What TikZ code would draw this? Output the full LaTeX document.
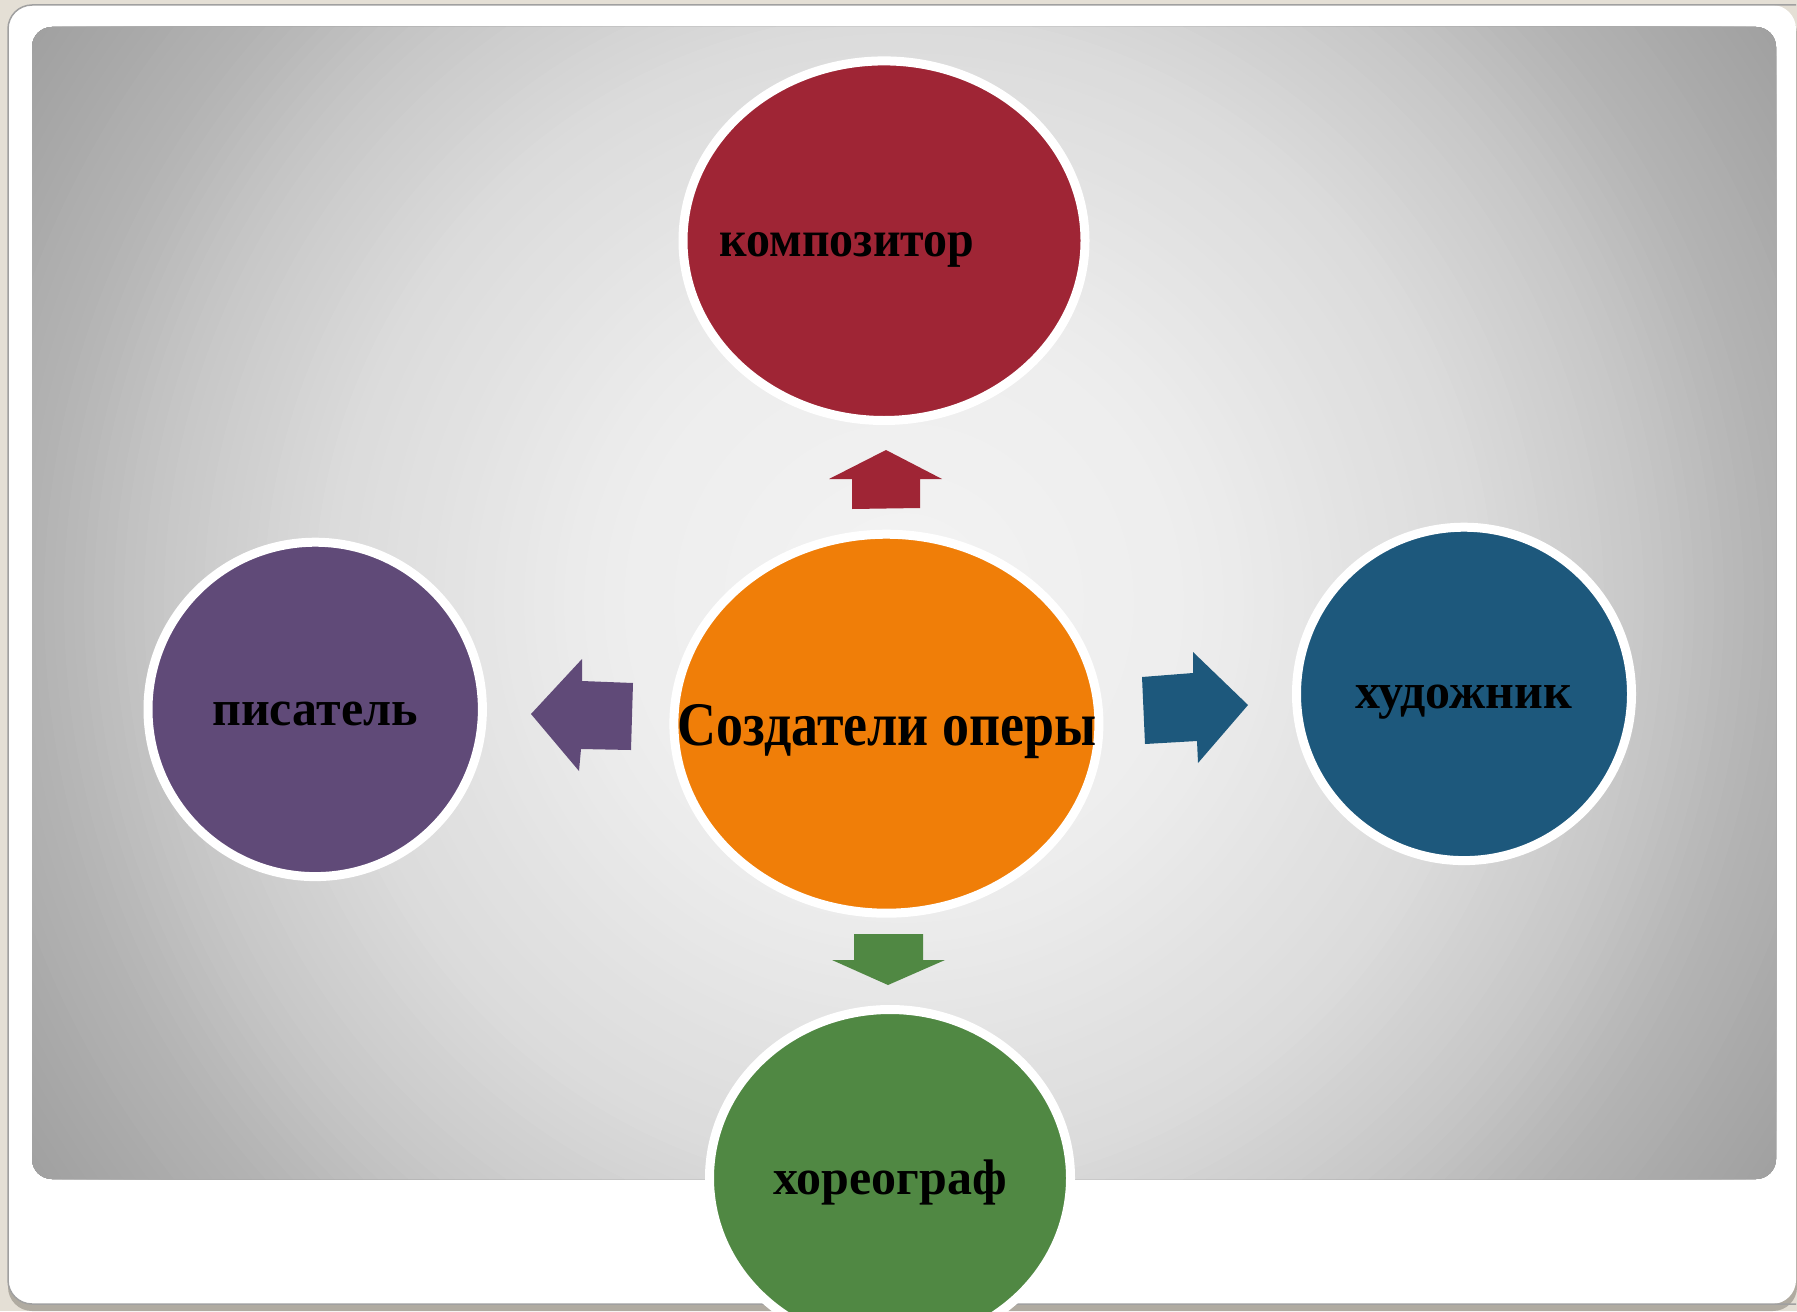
\documentclass[tikz,border=0pt]{standalone}
\usepackage{fontspec}
\usepackage{graphicx}
\setmainfont{Liberation Serif}
\usetikzlibrary{shapes.geometric}
\definecolor{beige}{HTML}{E4DFD5}
\definecolor{shadowc}{HTML}{B0ABA1}
\definecolor{framec}{HTML}{A0A0A0}
\definecolor{kompc}{HTML}{9F2535}
\definecolor{centc}{HTML}{F07E08}
\definecolor{pisc}{HTML}{604A78}
\definecolor{hudc}{HTML}{1D587C}
\definecolor{chorc}{HTML}{508843}
\tikzset{
  bubble/.style={ellipse, draw=white, line width=4.5pt, inner sep=0pt},
  lbl/.style={anchor=base, inner sep=0pt, font=\bfseries\fontsize{25}{29}\selectfont},
  smlbl/.style={lbl, font=\bfseries\fontsize{25.5}{29}\selectfont},
  biglbl/.style={lbl, font=\bfseries\fontsize{31}{36}\selectfont},
}
\begin{document}
\begin{tikzpicture}[x=0.5pt,y=-0.5pt]
\useasboundingbox (0,0) rectangle (1797,1311);
\fill[beige] (0,0) rectangle (1797,1311);
\fill[shadowc, rounded corners=12pt] (8,10) rectangle (1797,1311);
\fill[white, rounded corners=12pt] (8,5) rectangle (1796,1304);
\draw[framec, line width=0.75pt, rounded corners=12pt] (1796,1304) -- (8,1304) -- (8,5) -- (1796,5);
\begin{scope}
  \clip[rounded corners=10pt] (32,27) rectangle (1776,1179);
  \foreach \r in {1100,1090,...,10} {
    \pgfmathsetmacro\gval{\r<300 ? 0.955-0.025*\r/300 :
      (\r<576 ? 0.93-0.07*(\r-300)/276 :
      (\r<754 ? 0.86-0.084*(\r-576)/178 :
      (\r<872 ? 0.776-0.076*(\r-754)/118 : 0.70-0.07*(\r-872)/173)))}
    \definecolor{ringc}{gray}{\gval}
    \fill[ringc] (904,603) circle[radius=\r];
  }
\end{scope}
% bubbles
\node[bubble, fill=kompc, minimum width=201pt, minimum height=179.8pt] (komp) at (884,240.7) {};
\node[bubble, fill=centc, minimum width=212.5pt, minimum height=189.5pt] (cent) at (886.4,723.7) {};
\node[bubble, fill=pisc, minimum width=167.2pt, minimum height=167.2pt] (pis) at (315.2,709.4) {};
\node[bubble, fill=hudc, minimum width=167.5pt, minimum height=166.7pt] (hud) at (1464,693.9) {};
\node[bubble, fill=chorc, minimum width=180.5pt, minimum height=168.5pt] (chor) at (890,1178) {};
% block arrows
\fill[kompc] (886,450) -- (942,479) -- (920,479) -- (920,508) -- (852,509) -- (852,479) -- (829,479) -- cycle;
\fill[pisc] (531,714) -- (582,659) -- (582,681) -- (633,683) -- (631,750) -- (581,749) -- (579,771) -- cycle;
\fill[hudc] (1142,677) -- (1193,673) -- (1193,652) -- (1248,705) -- (1198,763) -- (1197,741) -- (1145,744) -- cycle;
\fill[chorc] (854,934) -- (923,934) -- (923,960) -- (945,960) -- (888,985) -- (832,960) -- (854,960) -- cycle;
% labels
\node[smlbl] (tkomp) at (847,256.7) {\scalebox{0.94}[1]{композитор}};
\node[biglbl] (tcent) at (887,745) {\scalebox{0.87}[1]{Создатели оперы}};
\node[lbl] (tpis) at (315,725) {писатель};
\node[lbl] (thud) at (1464,708) {художник};
\node[lbl] (tchor) at (890,1194) {хореограф};
\end{tikzpicture}
\end{document}
